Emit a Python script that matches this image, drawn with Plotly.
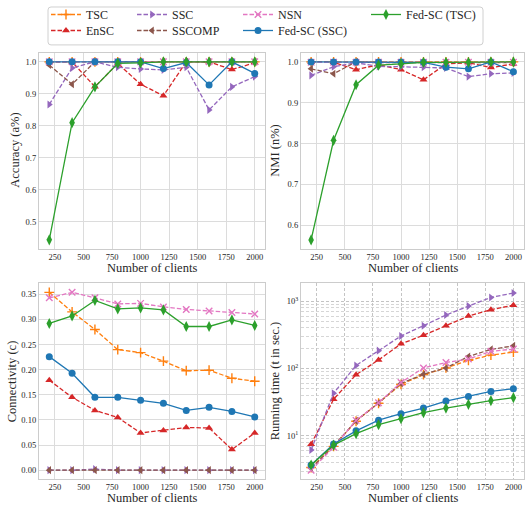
import plotly.graph_objects as go

# ---------------- data ----------------
clients = [200, 400, 600, 800, 1000, 1200, 1400, 1600, 1800, 2000]
x_tick_vals = [250, 500, 750, 1000, 1250, 1500, 1750, 2000]

method_names = ["TSC", "EnSC", "SSC", "SSCOMP", "NSN", "Fed-SC (SSC)", "Fed-SC (TSC)"]

acc_tsc = [1.0, 1.0, 1.0, 1.0, 1.0, 1.0, 1.0, 1.0, 1.0, 1.0]
acc_ensc = [1.0, 1.0, 0.922, 0.995, 0.930, 0.894, 1.0, 1.0, 0.976, 0.997]
acc_ssc = [0.867, 0.981, 1.0, 0.983, 0.978, 0.975, 0.983, 0.850, 0.922, 0.954]
acc_sscomp = [0.990, 0.930, 1.0, 1.0, 1.0, 1.0, 1.0, 1.0, 1.0, 1.0]
acc_nsn = [1.0, 1.0, 1.0, 1.0, 1.0, 1.0, 1.0, 1.0, 1.0, 1.0]
acc_fedssc = [1.0, 1.0, 1.0, 1.0, 1.0, 0.979, 0.998, 0.928, 1.0, 0.964]
acc_fedtsc = [0.444, 0.810, 0.922, 0.995, 0.997, 1.0, 1.0, 1.0, 1.0, 1.0]

nmi_tsc = [1.0, 1.0, 1.0, 1.0, 1.0, 1.0, 1.0, 1.0, 1.0, 1.0]
nmi_ensc = [1.0, 0.999, 0.981, 0.993, 0.981, 0.956, 0.995, 0.998, 0.986, 0.995]
nmi_ssc = [0.967, 0.988, 0.998, 0.989, 0.988, 0.987, 0.985, 0.964, 0.971, 0.973]
nmi_sscomp = [0.983, 0.971, 1.0, 0.998, 0.998, 0.998, 0.998, 0.998, 0.998, 0.998]
nmi_nsn = [0.999, 0.999, 0.999, 0.999, 0.999, 0.999, 0.999, 0.999, 0.999, 0.999]
nmi_fedssc = [1.0, 1.0, 1.0, 1.0, 1.0, 0.999, 0.987, 0.983, 1.0, 0.976]
nmi_fedtsc = [0.564, 0.808, 0.944, 0.992, 0.995, 0.999, 0.999, 0.999, 1.0, 1.0]

conn_tsc = [0.354, 0.315, 0.280, 0.240, 0.234, 0.217, 0.198, 0.199, 0.183, 0.177]
conn_ensc = [0.179, 0.145, 0.119, 0.105, 0.074, 0.079, 0.085, 0.084, 0.041, 0.074]
conn_ssc = [0.0, 0.0, 0.002, 0.0, 0.0, 0.0, 0.0, 0.0, 0.0, 0.0]
conn_sscomp = [0.0, 0.0, 0.0, 0.0, 0.0, 0.0, 0.0, 0.0, 0.0, 0.0]
conn_nsn = [0.343, 0.354, 0.343, 0.331, 0.332, 0.325, 0.320, 0.317, 0.314, 0.311]
conn_fedssc = [0.226, 0.193, 0.145, 0.145, 0.139, 0.133, 0.119, 0.125, 0.117, 0.106]
conn_fedtsc = [0.292, 0.307, 0.338, 0.321, 0.323, 0.319, 0.286, 0.286, 0.299, 0.288]

rt_tsc = [3.4, 7.0, 16.5, 30.5, 58, 81, 102, 132, 158, 175]
rt_ensc = [7.5, 35, 81, 134, 232, 311, 432, 600, 745, 870]
rt_ssc = [6.2, 43, 111, 184, 304, 432, 621, 843, 1133, 1320]
rt_sscomp = [3.3, 7.1, 16.7, 30.8, 60, 82, 102, 151, 192, 217]
rt_nsn = [3.1, 6.8, 17.0, 31.0, 62, 102, 123, 138, 180, 194]
rt_fedssc = [3.7, 7.6, 11.9, 17.1, 21.4, 25.9, 32.9, 38.5, 45.7, 50.1]
rt_fedtsc = [3.7, 7.3, 10.8, 14.7, 18.0, 22.1, 25.9, 29.4, 33.3, 36.9]

acc_all = [acc_tsc, acc_ensc, acc_ssc, acc_sscomp, acc_nsn, acc_fedssc, acc_fedtsc]
nmi_all = [nmi_tsc, nmi_ensc, nmi_ssc, nmi_sscomp, nmi_nsn, nmi_fedssc, nmi_fedtsc]
conn_all = [conn_tsc, conn_ensc, conn_ssc, conn_sscomp, conn_nsn, conn_fedssc, conn_fedtsc]
rt_all = [rt_tsc, rt_ensc, rt_ssc, rt_sscomp, rt_nsn, rt_fedssc, rt_fedtsc]

x_title = "Number of clients"
y_titles = ["Accuracy (a%)", "NMI (n%)", "Connectivity (c)", "Running time (t in sec.)"]

# ---------------- style ----------------
colors = ["#ff7f0e", "#d62728", "#9467bd", "#8c564b", "#e377c2", "#1f77b4", "#2ca02c"]
symbols = ["cross-thin", "triangle-up", "triangle-right", "triangle-left", "x-thin", "circle", "diamond-tall"]
sizes = [7, 7, 7, 7, 6.5, 7, 8]
dashes = ["4.5px,2px"] * 5 + ["solid", "solid"]
legend_ids = ["legend", "legend2", "legend3", "legend4", "legend5", "legend6", "legend7"]
legend_pos_px = [(46, 13.5), (46, 30.5), (132, 13.5), (132, 30.5), (238, 13.5), (238, 30.5), (366, 13.5)]

W, H = 525, 505
FONT = "Liberation Serif, Times New Roman, Times, serif"
TXT = "#262626"
GRID = "#dcdcdc"
FRAME = "#cccccc"
TICK_SIZE = 8.5
TITLE_SIZE = 12.5

fig = go.Figure()

panels = [
    (acc_all, "x", "y"),
    (nmi_all, "x2", "y2"),
    (conn_all, "x3", "y3"),
    (rt_all, "x4", "y4"),
]

for p, (series, xa, ya) in enumerate(panels):
    for i, name in enumerate(method_names):
        thin = symbols[i] in ("cross-thin", "x-thin")
        fig.add_trace(go.Scatter(
            x=clients, y=series[i], name=name, mode="lines+markers",
            xaxis=xa, yaxis=ya,
            line=dict(color=colors[i], width=1.3, dash=dashes[i]),
            marker=dict(symbol=symbols[i], size=sizes[i], color=colors[i],
                        line=dict(color=colors[i], width=1.4 if thin else 0)),
            showlegend=(p == 0), legend=legend_ids[i],
        ))


def xaxis_cfg(domain, anchor, dashed=False):
    return dict(domain=domain, anchor=anchor, range=[110, 2090],
                tickmode="array", tickvals=x_tick_vals,
                showgrid=True, gridcolor="#c4c4c4" if dashed else GRID,
                gridwidth=0.8 if dashed else 1,
                griddash="3px,2px" if dashed else "solid",
                showline=True, linecolor=FRAME, linewidth=1.2, mirror=True,
                ticks="", zeroline=False,
                tickfont=dict(family=FONT, size=TICK_SIZE, color=TXT),
                automargin=False)


def yaxis_cfg(domain, anchor, rng, dtick, fmt):
    return dict(domain=domain, anchor=anchor, range=rng,
                dtick=dtick, tick0=0, tickformat=fmt,
                showgrid=True, gridcolor=GRID, gridwidth=1,
                showline=True, linecolor=FRAME, linewidth=1.2, mirror=True,
                ticks="", zeroline=False,
                tickfont=dict(family=FONT, size=TICK_SIZE, color=TXT),
                automargin=False)


xl = [39 / W, 265 / W]
xr = [301 / W, 523.5 / W]
yt = [1 - 248 / H, 1 - 52 / H]
yb = [1 - 479 / H, 1 - 283 / H]

minor_vals = [m * 10 ** e for e in range(0, 4) for m in range(2, 10)]

fig.update_layout(
    width=W, height=H,
    margin=dict(l=0, r=0, t=0, b=0),
    paper_bgcolor="white", plot_bgcolor="white",
    font=dict(family=FONT, color=TXT),
    hovermode=False,
    xaxis=xaxis_cfg(xl, "y"),
    yaxis=yaxis_cfg(yt, "x", [0.417, 1.028], 0.1, ".1f"),
    xaxis2=xaxis_cfg(xr, "y2"),
    yaxis2=yaxis_cfg(yt, "x2", [0.543, 1.022], 0.1, ".1f"),
    xaxis3=xaxis_cfg(xl, "y3"),
    yaxis3=yaxis_cfg(yb, "x3", [-0.0177, 0.3717], 0.05, ".2f"),
    xaxis4=xaxis_cfg(xr, "y4", dashed=True),
    yaxis4=dict(domain=yb, anchor="x4", type="log", range=[0.36, 3.262],
                tickmode="array", tickvals=[10, 100, 1000],
                ticktext=["10<sup>1</sup>", "10<sup>2</sup>", "10<sup>3</sup>"],
                showgrid=True, gridcolor="#c4c4c4", gridwidth=0.8, griddash="3px,2px",
                minor=dict(tickmode="array", tickvals=minor_vals, showgrid=True,
                           gridcolor="#d6d6d6", gridwidth=0.7, griddash="3px,2px", ticks=""),
                showline=True, linecolor=FRAME, linewidth=1.2, mirror=True,
                ticks="", zeroline=False,
                tickfont=dict(family=FONT, size=TICK_SIZE, color=TXT),
                automargin=False),
)

# axis titles (placed like matplotlib labels)
title_font = dict(family=FONT, size=TITLE_SIZE, color=TXT)
x_title_pos = [(152, 268), (412.5, 268), (152, 498), (412.5, 498)]
y_title_pos = [(15, 150), (275, 150), (12, 381), (275, 381)]
for (xp, yp) in x_title_pos:
    fig.add_annotation(text=x_title, x=xp / W, y=1 - yp / H, xref="paper", yref="paper",
                       xanchor="center", yanchor="middle", showarrow=False, font=title_font)
for t, (xp, yp) in zip(y_titles, y_title_pos):
    fig.add_annotation(text=t, x=xp / W, y=1 - yp / H, xref="paper", yref="paper",
                       xanchor="center", yanchor="middle", textangle=-90,
                       showarrow=False, font=title_font)

# legends, one per entry, arranged in a 4-column grid (column-major like the original)
for lid, (px, py) in zip(legend_ids, legend_pos_px):
    fig.update_layout({lid: dict(
        x=px / W, y=1 - py / H, xref="paper", yref="paper",
        xanchor="left", yanchor="middle",
        bgcolor="rgba(0,0,0,0)", borderwidth=0,
        font=dict(family=FONT, size=12, color=TXT),
        itemwidth=30,
    )})

# legend frame
x0, x1 = 48 / W, 483 / W
y0, y1 = 1 - 44 / H, 1 - 6 / H
rx, ry = 3 / W, 3 / H
path = (f"M {x0+rx},{y1} L {x1-rx},{y1} Q {x1},{y1} {x1},{y1-ry} "
        f"L {x1},{y0+ry} Q {x1},{y0} {x1-rx},{y0} "
        f"L {x0+rx},{y0} Q {x0},{y0} {x0},{y0+ry} "
        f"L {x0},{y1-ry} Q {x0},{y1} {x0+rx},{y1} Z")
fig.add_shape(type="path", path=path, xref="paper", yref="paper",
              line=dict(color="#d0d0d0", width=1), fillcolor="white", layer="below")

fig.write_html("out.html", config={"displayModeBar": False},
               post_script="document.body.style.margin='0';")
